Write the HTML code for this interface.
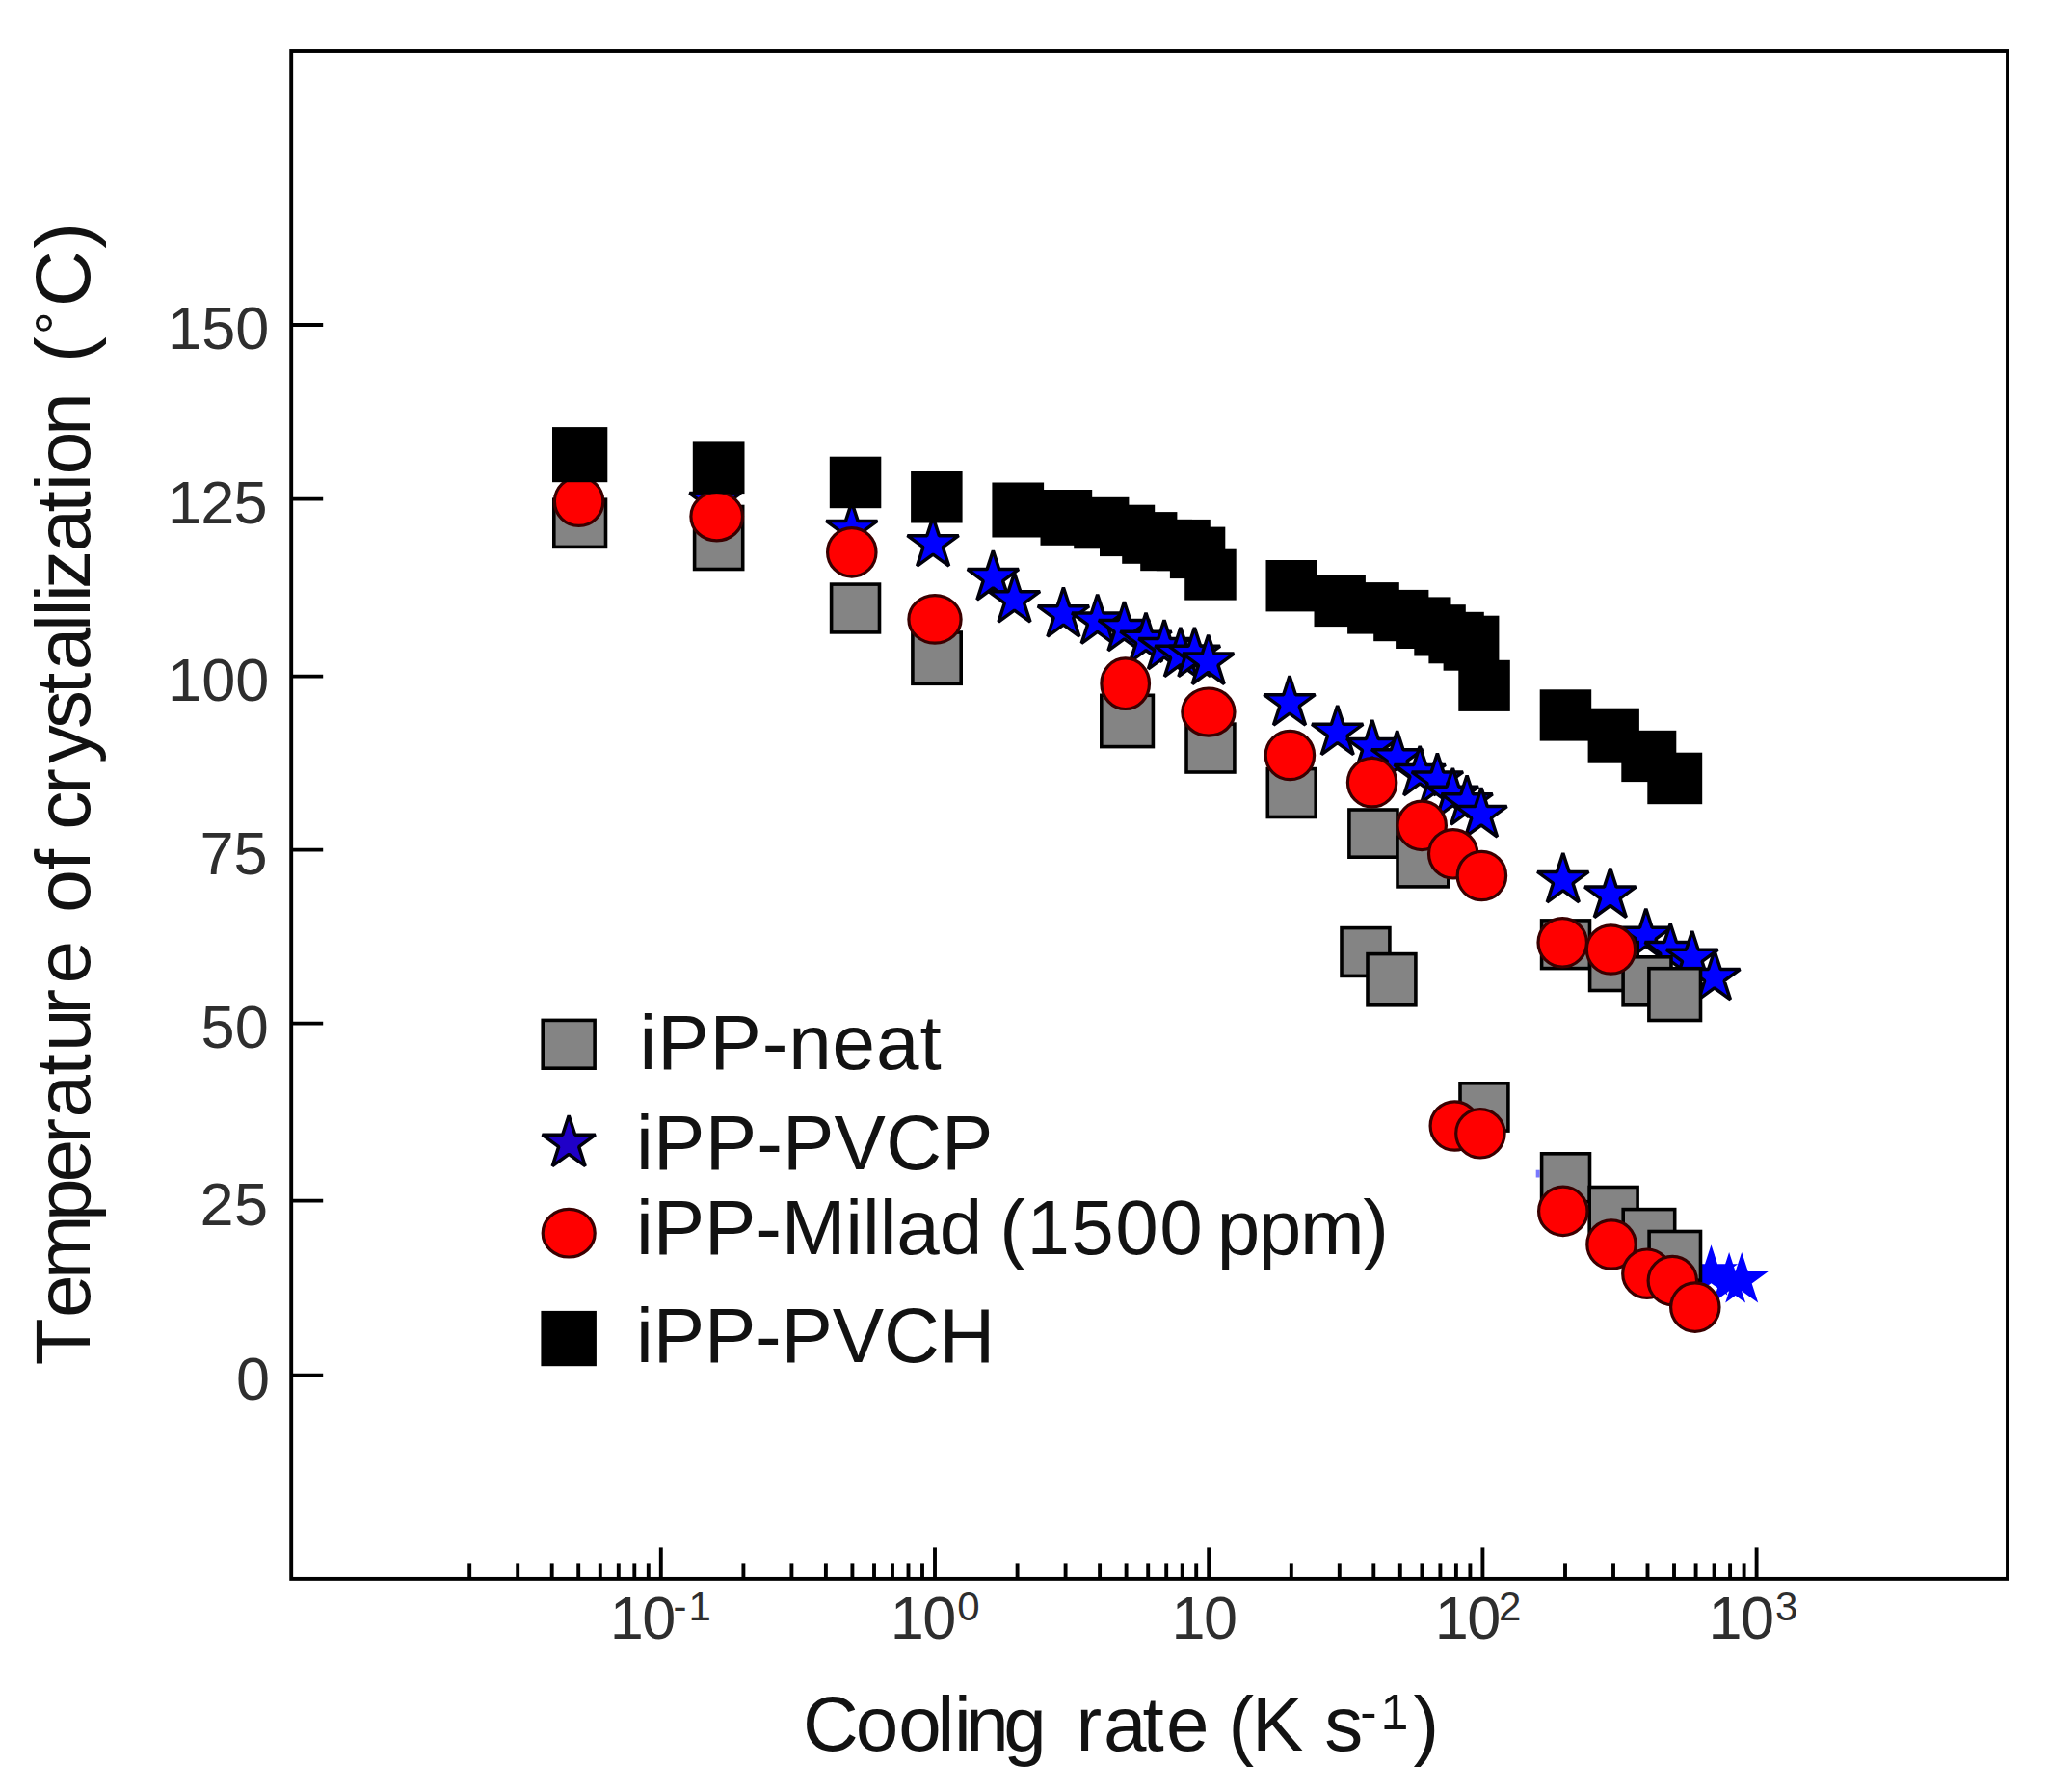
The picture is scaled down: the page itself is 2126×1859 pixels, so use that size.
<!DOCTYPE html>
<html lang="en"><head><meta charset="utf-8"><title>Temperature of crystallization vs cooling rate</title>
<style>html,body{margin:0;padding:0;background:#fff}body{width:2126px;height:1859px;overflow:hidden}svg{display:block}text{font-family:"Liberation Sans",sans-serif;fill:#121212;font-kerning:none}#yticklabels text,#xticklabels text{fill:#2e2e2e}</style>
</head><body>
<svg width="2126" height="1859" viewBox="0 0 2126 1859">
<rect x="0" y="0" width="2126" height="1859" fill="#ffffff"/>
<g id="axes" stroke="#000" stroke-width="3.9" fill="none" stroke-linecap="butt">
<rect x="302.2" y="53.0" width="1780.8" height="1584.9"/>
<line x1="302.2" y1="337.0" x2="335.2" y2="337.0"/>
<line x1="302.2" y1="517.6" x2="335.2" y2="517.6"/>
<line x1="302.2" y1="701.6" x2="335.2" y2="701.6"/>
<line x1="302.2" y1="881.6" x2="335.2" y2="881.6"/>
<line x1="302.2" y1="1061.6" x2="335.2" y2="1061.6"/>
<line x1="302.2" y1="1245.6" x2="335.2" y2="1245.6"/>
<line x1="302.2" y1="1426.6" x2="335.2" y2="1426.6"/>
<line x1="487.2" y1="1637.9" x2="487.2" y2="1621.4"/>
<line x1="537.2" y1="1637.9" x2="537.2" y2="1621.4"/>
<line x1="572.7" y1="1637.9" x2="572.7" y2="1621.4"/>
<line x1="600.2" y1="1637.9" x2="600.2" y2="1621.4"/>
<line x1="622.8" y1="1637.9" x2="622.8" y2="1621.4"/>
<line x1="641.8" y1="1637.9" x2="641.8" y2="1621.4"/>
<line x1="658.3" y1="1637.9" x2="658.3" y2="1621.4"/>
<line x1="672.8" y1="1637.9" x2="672.8" y2="1621.4"/>
<line x1="771.4" y1="1637.9" x2="771.4" y2="1621.4"/>
<line x1="821.4" y1="1637.9" x2="821.4" y2="1621.4"/>
<line x1="856.9" y1="1637.9" x2="856.9" y2="1621.4"/>
<line x1="884.4" y1="1637.9" x2="884.4" y2="1621.4"/>
<line x1="907.0" y1="1637.9" x2="907.0" y2="1621.4"/>
<line x1="926.0" y1="1637.9" x2="926.0" y2="1621.4"/>
<line x1="942.5" y1="1637.9" x2="942.5" y2="1621.4"/>
<line x1="957.0" y1="1637.9" x2="957.0" y2="1621.4"/>
<line x1="1055.6" y1="1637.9" x2="1055.6" y2="1621.4"/>
<line x1="1105.6" y1="1637.9" x2="1105.6" y2="1621.4"/>
<line x1="1141.1" y1="1637.9" x2="1141.1" y2="1621.4"/>
<line x1="1168.6" y1="1637.9" x2="1168.6" y2="1621.4"/>
<line x1="1191.2" y1="1637.9" x2="1191.2" y2="1621.4"/>
<line x1="1210.2" y1="1637.9" x2="1210.2" y2="1621.4"/>
<line x1="1226.7" y1="1637.9" x2="1226.7" y2="1621.4"/>
<line x1="1241.2" y1="1637.9" x2="1241.2" y2="1621.4"/>
<line x1="1339.8" y1="1637.9" x2="1339.8" y2="1621.4"/>
<line x1="1389.8" y1="1637.9" x2="1389.8" y2="1621.4"/>
<line x1="1425.3" y1="1637.9" x2="1425.3" y2="1621.4"/>
<line x1="1452.8" y1="1637.9" x2="1452.8" y2="1621.4"/>
<line x1="1475.4" y1="1637.9" x2="1475.4" y2="1621.4"/>
<line x1="1494.4" y1="1637.9" x2="1494.4" y2="1621.4"/>
<line x1="1510.9" y1="1637.9" x2="1510.9" y2="1621.4"/>
<line x1="1525.4" y1="1637.9" x2="1525.4" y2="1621.4"/>
<line x1="1624.0" y1="1637.9" x2="1624.0" y2="1621.4"/>
<line x1="1674.0" y1="1637.9" x2="1674.0" y2="1621.4"/>
<line x1="1709.5" y1="1637.9" x2="1709.5" y2="1621.4"/>
<line x1="1737.0" y1="1637.9" x2="1737.0" y2="1621.4"/>
<line x1="1759.6" y1="1637.9" x2="1759.6" y2="1621.4"/>
<line x1="1778.6" y1="1637.9" x2="1778.6" y2="1621.4"/>
<line x1="1795.1" y1="1637.9" x2="1795.1" y2="1621.4"/>
<line x1="1809.6" y1="1637.9" x2="1809.6" y2="1621.4"/>
<line x1="685.8" y1="1637.9" x2="685.8" y2="1605.4"/>
<line x1="970.0" y1="1637.9" x2="970.0" y2="1605.4"/>
<line x1="1254.2" y1="1637.9" x2="1254.2" y2="1605.4"/>
<line x1="1538.4" y1="1637.9" x2="1538.4" y2="1605.4"/>
<line x1="1822.6" y1="1637.9" x2="1822.6" y2="1605.4"/>
</g>
<g id="yticklabels" font-size="63">
<text x="173.9" y="362.0" letter-spacing="0.2">150</text>
<text x="173.9" y="542.6" letter-spacing="-0.7">125</text>
<text x="173.9" y="726.6" letter-spacing="0.2">100</text>
<text x="207.4" y="906.6" letter-spacing="0.1">75</text>
<text x="208.5" y="1086.6" letter-spacing="0.3">50</text>
<text x="207.4" y="1270.6" letter-spacing="0.6">25</text>
<text x="245.0" y="1451.6">0</text>
</g>
<g id="xticklabels" font-size="63">
<text x="632.7" y="1700.3" letter-spacing="-1.5">10</text>
<text x="923.7" y="1700.3" letter-spacing="-1.5">10</text>
<text x="1215.5" y="1700.3" letter-spacing="-1.5">10</text>
<text x="1488.8" y="1700.3" letter-spacing="-1.5">10</text>
<text x="1772.4" y="1700.3" letter-spacing="-1.5">10</text>
<text x="698.6 714.5" y="1681.0" font-size="42">-1</text>
<text x="993.3" y="1681.0" font-size="42">0</text>
<text x="1555.0" y="1681.0" font-size="42">2</text>
<text x="1842.0" y="1681.0" font-size="42">3</text>
</g>
<g id="xtitle" font-size="80">
<text x="832.9 887.7 932.3 972.4 990.0 1002.3 1041.2" y="1815.5">Cooling</text>
<text x="1116.5 1144.9 1185.5 1209.9" y="1815.5">rate</text>
<text x="1274.6 1299.0" y="1815.5">(K</text>
<text x="1374.3" y="1815.5">s</text>
<text x="1411.2 1432.5" y="1793.5" font-size="52">-1</text>
<text x="1466.6" y="1815.5">)</text>
</g>
<g id="ytitle" font-size="80" transform="translate(93.2,1414.2) rotate(-90)">
<text x="-2.0 47.2 87.1 147.3 187.8 227.7 254.8 298.6 323.1 361.6 393.7" y="0.0">Temperature</text>
<text x="467.4 511.2" y="0.0">of</text>
<text x="553.5 590.4 622.2 658.3 694.1 718.9 759.2 774.7 790.2 803.3 841.7 882.8 905.3 921.9 962.5" y="0.0">crystallization</text>
<text x="1038.2" y="0.0">(</text>
<text x="1067.0" y="-14.5" font-size="60">°</text>
<text x="1096.3 1156.4" y="0.0">C)</text>
</g>
<g id="series-pvcp" fill="#0000ff" stroke="#00000c" stroke-width="3.5" stroke-linejoin="bevel">
<polygon points="742.0,492.3 748.3,511.6 768.6,511.6 752.2,523.6 758.5,543.0 742.0,531.0 725.5,543.0 731.8,523.6 715.4,511.6 735.7,511.6"/>
<polygon points="883.8,521.1 890.1,540.4 910.4,540.4 894.0,552.4 900.3,571.8 883.8,559.8 867.3,571.8 873.6,552.4 857.2,540.4 877.5,540.4"/>
<polygon points="968.1,536.4 974.4,555.7 994.7,555.7 978.3,567.7 984.6,587.1 968.1,575.1 951.6,587.1 957.9,567.7 941.5,555.7 961.8,555.7"/>
<polygon points="1030.4,571.3 1036.7,590.6 1057.0,590.6 1040.6,602.6 1046.9,622.0 1030.4,610.0 1013.9,622.0 1020.2,602.6 1003.8,590.6 1024.1,590.6"/>
<polygon points="1052.5,594.4 1058.8,613.7 1079.1,613.7 1062.7,625.7 1069.0,645.1 1052.5,633.1 1036.0,645.1 1042.3,625.7 1025.9,613.7 1046.2,613.7"/>
<polygon points="1103.4,609.5 1109.7,628.8 1130.0,628.8 1113.6,640.8 1119.9,660.2 1103.4,648.2 1086.9,660.2 1093.2,640.8 1076.8,628.8 1097.1,628.8"/>
<polygon points="1138.7,616.7 1145.0,636.0 1165.3,636.0 1148.9,648.0 1155.2,667.4 1138.7,655.4 1122.2,667.4 1128.5,648.0 1112.1,636.0 1132.4,636.0"/>
<polygon points="1166.5,624.2 1172.8,643.5 1193.1,643.5 1176.7,655.5 1183.0,674.9 1166.5,662.9 1150.0,674.9 1156.3,655.5 1139.9,643.5 1160.2,643.5"/>
<polygon points="1189.0,635.9 1195.3,655.2 1215.6,655.2 1199.2,667.2 1205.5,686.6 1189.0,674.6 1172.5,686.6 1178.8,667.2 1162.4,655.2 1182.7,655.2"/>
<polygon points="1208.0,643.2 1214.3,662.5 1234.6,662.5 1218.2,674.5 1224.5,693.9 1208.0,681.9 1191.5,693.9 1197.8,674.5 1181.4,662.5 1201.7,662.5"/>
<polygon points="1224.9,651.0 1231.2,670.3 1251.5,670.3 1235.1,682.3 1241.4,701.7 1224.9,689.7 1208.4,701.7 1214.7,682.3 1198.3,670.3 1218.6,670.3"/>
<polygon points="1239.4,651.0 1245.7,670.3 1266.0,670.3 1249.6,682.3 1255.9,701.7 1239.4,689.7 1222.9,701.7 1229.2,682.3 1212.8,670.3 1233.1,670.3"/>
<polygon points="1253.7,658.8 1260.0,678.1 1280.3,678.1 1263.9,690.1 1270.2,709.5 1253.7,697.5 1237.2,709.5 1243.5,690.1 1227.1,678.1 1247.4,678.1"/>
<polygon points="1338.0,701.4 1344.3,720.7 1364.6,720.7 1348.2,732.7 1354.5,752.1 1338.0,740.1 1321.5,752.1 1327.8,732.7 1311.4,720.7 1331.7,720.7"/>
<polygon points="1387.7,732.0 1394.0,751.3 1414.3,751.3 1397.9,763.3 1404.2,782.7 1387.7,770.7 1371.2,782.7 1377.5,763.3 1361.1,751.3 1381.4,751.3"/>
<polygon points="1423.8,747.1 1430.1,766.4 1450.4,766.4 1434.0,778.4 1440.3,797.8 1423.8,785.8 1407.3,797.8 1413.6,778.4 1397.2,766.4 1417.5,766.4"/>
<polygon points="1449.7,758.4 1456.0,777.7 1476.3,777.7 1459.9,789.7 1466.2,809.1 1449.7,797.1 1433.2,809.1 1439.5,789.7 1423.1,777.7 1443.4,777.7"/>
<polygon points="1473.2,774.1 1479.5,793.4 1499.8,793.4 1483.4,805.4 1489.7,824.8 1473.2,812.8 1456.7,824.8 1463.0,805.4 1446.6,793.4 1466.9,793.4"/>
<polygon points="1491.4,781.6 1497.7,800.9 1518.0,800.9 1501.6,812.9 1507.9,832.3 1491.4,820.3 1474.9,832.3 1481.2,812.9 1464.8,800.9 1485.1,800.9"/>
<polygon points="1507.4,797.0 1513.7,816.3 1534.0,816.3 1517.6,828.3 1523.9,847.7 1507.4,835.7 1490.9,847.7 1497.2,828.3 1480.8,816.3 1501.1,816.3"/>
<polygon points="1522.1,804.5 1528.4,823.8 1548.7,823.8 1532.3,835.8 1538.6,855.2 1522.1,843.2 1505.6,855.2 1511.9,835.8 1495.5,823.8 1515.8,823.8"/>
<polygon points="1537.0,817.3 1543.3,836.6 1563.6,836.6 1547.2,848.6 1553.5,868.0 1537.0,856.0 1520.5,868.0 1526.8,848.6 1510.4,836.6 1530.7,836.6"/>
<polygon points="1621.8,885.1 1628.1,904.4 1648.4,904.4 1632.0,916.4 1638.3,935.8 1621.8,923.8 1605.3,935.8 1611.6,916.4 1595.2,904.4 1615.5,904.4"/>
<polygon points="1670.8,900.8 1677.1,920.1 1697.4,920.1 1681.0,932.1 1687.3,951.5 1670.8,939.5 1654.3,951.5 1660.6,932.1 1644.2,920.1 1664.5,920.1"/>
<polygon points="1707.8,942.9 1714.1,962.2 1734.4,962.2 1718.0,974.2 1724.3,993.6 1707.8,981.6 1691.3,993.6 1697.6,974.2 1681.2,962.2 1701.5,962.2"/>
<polygon points="1733.2,958.2 1739.5,977.5 1759.8,977.5 1743.4,989.5 1749.7,1008.9 1733.2,996.9 1716.7,1008.9 1723.0,989.5 1706.6,977.5 1726.9,977.5"/>
<polygon points="1755.8,966.0 1762.1,985.3 1782.4,985.3 1766.0,997.3 1772.3,1016.7 1755.8,1004.7 1739.3,1016.7 1745.6,997.3 1729.2,985.3 1749.5,985.3"/>
<polygon points="1778.9,986.2 1785.2,1005.5 1805.5,1005.5 1789.1,1017.5 1795.4,1036.9 1778.9,1024.9 1762.4,1036.9 1768.7,1017.5 1752.3,1005.5 1772.6,1005.5"/>
</g>
<g id="series-pvcp-plain" fill="#0000ff">
<polygon points="1775.5,1291.2 1782.0,1311.2 1803.1,1311.2 1786.0,1323.6 1792.5,1343.7 1775.5,1331.3 1758.5,1343.7 1765.0,1323.6 1747.9,1311.2 1769.0,1311.2"/>
<polygon points="1794.1,1299.1 1800.6,1319.1 1821.7,1319.1 1804.6,1331.5 1811.1,1351.6 1794.1,1339.2 1777.1,1351.6 1783.6,1331.5 1766.5,1319.1 1787.6,1319.1"/>
<polygon points="1807.2,1299.1 1813.7,1319.1 1834.8,1319.1 1817.7,1331.5 1824.2,1351.6 1807.2,1339.2 1790.2,1351.6 1796.7,1331.5 1779.6,1319.1 1800.7,1319.1"/>
<rect x="1593.7" y="1213.7" width="3.9" height="7.8" fill="#7878ff"/>
</g>
<g id="series-neat" fill="#848484" stroke="#000" stroke-width="3.6">
<rect x="574.8" y="518.2" width="53.7" height="49.2"/>
<rect x="720.6" y="525.5" width="50.1" height="65.0"/>
<rect x="862.6" y="606.1" width="49.9" height="49.8"/>
<rect x="946.9" y="656.0" width="50.3" height="53.3"/>
<rect x="1142.8" y="721.3" width="53.6" height="53.3"/>
<rect x="1231.0" y="751.1" width="49.9" height="49.9"/>
<rect x="1315.3" y="797.6" width="49.9" height="49.9"/>
<rect x="1399.9" y="840.0" width="50.1" height="49.2"/>
<rect x="1450.0" y="868.5" width="52.8" height="51.4"/>
<rect x="1392.0" y="962.6" width="49.9" height="49.8"/>
<rect x="1419.0" y="989.6" width="49.9" height="53.2"/>
<rect x="1599.6" y="954.9" width="49.9" height="49.7"/>
<rect x="1649.6" y="977.6" width="49.6" height="49.9"/>
<rect x="1684.1" y="992.8" width="49.9" height="50.0"/>
<rect x="1710.9" y="1004.7" width="53.6" height="53.8"/>
<rect x="1515.0" y="1123.8" width="49.9" height="49.3"/>
<rect x="1599.6" y="1196.8" width="49.9" height="49.9"/>
<rect x="1649.2" y="1231.5" width="49.9" height="49.9"/>
<rect x="1684.2" y="1254.6" width="53.5" height="49.9"/>
<rect x="1711.1" y="1277.5" width="53.4" height="50.7"/>
</g>
<g id="series-millad" fill="#ff0000" stroke="#3a0000" stroke-width="3.2">
<circle cx="600.6" cy="520.2" r="25.2"/>
<ellipse cx="743.7" cy="535.7" rx="26.8" ry="25.2"/>
<circle cx="883.8" cy="572.9" r="25.2"/>
<ellipse cx="970.0" cy="642.4" rx="27.1" ry="24.8"/>
<ellipse cx="1167.7" cy="709.2" rx="24.8" ry="26.3"/>
<ellipse cx="1253.9" cy="738.6" rx="27.1" ry="24.6"/>
<circle cx="1338.4" cy="783.5" r="25.2"/>
<circle cx="1423.6" cy="811.7" r="25.2"/>
<circle cx="1475.2" cy="856.4" r="25.2"/>
<circle cx="1507.7" cy="885.8" r="25.2"/>
<circle cx="1537.4" cy="908.5" r="25.2"/>
<circle cx="1621.2" cy="977.8" r="25.2"/>
<circle cx="1671.5" cy="985.0" r="25.2"/>
<circle cx="1509.3" cy="1168.0" r="25.2"/>
<circle cx="1535.9" cy="1175.8" r="25.2"/>
<circle cx="1621.8" cy="1256.4" r="25.2"/>
<circle cx="1672.0" cy="1291.0" r="25.2"/>
<circle cx="1708.9" cy="1321.2" r="25.2"/>
<circle cx="1735.3" cy="1328.6" r="25.2"/>
<circle cx="1758.8" cy="1356.1" r="25.2"/>
</g>
<g id="series-pvch" fill="#000">
<rect x="573.0" y="443.1" width="57.3" height="57.1"/>
<rect x="718.8" y="458.4" width="53.7" height="53.7"/>
<rect x="860.8" y="473.7" width="53.5" height="53.5"/>
<rect x="945.1" y="489.0" width="53.5" height="53.5"/>
<rect x="1029.4" y="500.5" width="53.7" height="57.0"/>
<rect x="1079.5" y="508.0" width="53.7" height="57.8"/>
<rect x="1114.2" y="515.8" width="57.2" height="53.5"/>
<rect x="1141.0" y="523.7" width="57.2" height="53.4"/>
<rect x="1164.2" y="531.1" width="57.2" height="53.7"/>
<rect x="1183.2" y="538.9" width="53.8" height="53.3"/>
<rect x="1199.8" y="538.9" width="56.0" height="53.3"/>
<rect x="1213.9" y="546.6" width="57.4" height="53.5"/>
<rect x="1229.2" y="569.7" width="53.5" height="52.9"/>
<rect x="1313.5" y="581.0" width="53.5" height="53.4"/>
<rect x="1363.5" y="596.2" width="53.4" height="53.9"/>
<rect x="1398.1" y="604.1" width="53.7" height="53.5"/>
<rect x="1425.2" y="611.9" width="57.2" height="53.3"/>
<rect x="1448.1" y="619.4" width="57.4" height="53.6"/>
<rect x="1467.3" y="627.2" width="53.5" height="53.3"/>
<rect x="1482.4" y="634.8" width="57.4" height="53.5"/>
<rect x="1497.6" y="638.7" width="57.8" height="57.0"/>
<rect x="1513.3" y="684.8" width="53.5" height="53.1"/>
<rect x="1597.7" y="715.3" width="53.5" height="53.3"/>
<rect x="1647.6" y="734.7" width="53.3" height="57.0"/>
<rect x="1682.3" y="757.8" width="57.0" height="53.3"/>
<rect x="1709.3" y="780.7" width="56.9" height="53.5"/>
</g>
<g id="legend" font-size="80">
<rect x="563.2" y="1058.4" width="53.9" height="49.8" fill="#848484" stroke="#000" stroke-width="3.6"/>
<polygon points="590.2,1157.2 596.7,1177.2 617.8,1177.2 600.7,1189.6 607.2,1209.7 590.2,1197.3 573.2,1209.7 579.7,1189.6 562.6,1177.2 583.7,1177.2" fill="#2000c8" stroke="#00000c" stroke-width="3.5" stroke-linejoin="bevel"/>
<ellipse cx="590.2" cy="1279.2" rx="27" ry="24.8" fill="#ff0000" stroke="#3a0000" stroke-width="3.2"/>
<rect x="561.4" y="1359.9" width="57.5" height="57.3" fill="#000"/>
<text x="663.5" y="1109.4" letter-spacing="0.9">iPP-neat</text>
<text x="660.1" y="1213.1" letter-spacing="0.2">iPP-PVCP</text>
<text x="660.1" y="1301.3" letter-spacing="-0.11">iPP-Millad</text>
<text x="1037.3" y="1301.3" letter-spacing="1.45">(1500</text>
<text x="1262.8" y="1301.3" letter-spacing="-1.43">ppm)</text>
<text x="660.1" y="1412.6" letter-spacing="-0.16">iPP-PVCH</text>
</g>
</svg>
</body></html>
